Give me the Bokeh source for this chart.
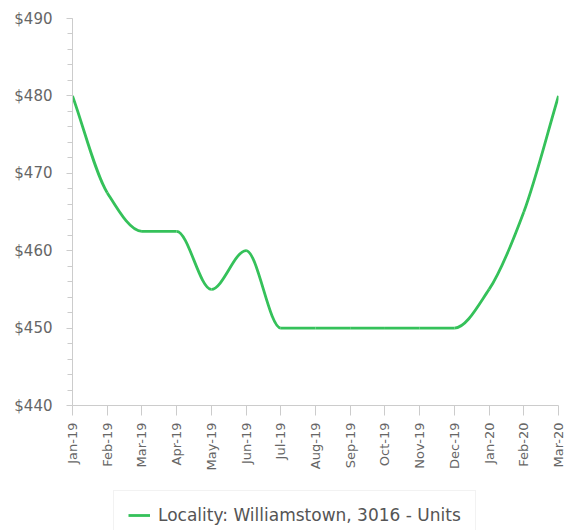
import numpy as np
from bokeh.plotting import figure
from bokeh.layouts import column
from bokeh.models import (FixedTicker, NumeralTickFormatter, Range1d, Legend, LegendItem)
from bokeh.embed import file_html
from bokeh.resources import INLINE

months = ["Jan-19", "Feb-19", "Mar-19", "Apr-19", "May-19", "Jun-19", "Jul-19",
          "Aug-19", "Sep-19", "Oct-19", "Nov-19", "Dec-19", "Jan-20", "Feb-20", "Mar-20"]
rent = [480, 467.5, 462.5, 462.5, 455, 460, 450, 450, 450, 450, 450, 450, 455, 465, 480]
series_name = "Locality: Williamstown, 3016 - Units"
y_ticks = [440, 450, 460, 470, 480, 490]

x = np.arange(len(months), dtype=float)
y = np.array(rent, dtype=float)

# monotone cubic (Fritsch-Carlson) tangents -> bezier control points for a smooth line
n = len(x)
h = np.diff(x)
d = np.diff(y) / h
m = np.zeros(n)
m[0] = d[0]
m[-1] = d[-1]
for i in range(1, n - 1):
    if d[i - 1] * d[i] <= 0:
        m[i] = 0.0
    else:
        w1 = 2 * h[i] + h[i - 1]
        w2 = h[i] + 2 * h[i - 1]
        m[i] = (w1 + w2) / (w1 / d[i - 1] + w2 / d[i])
x0, y0 = x[:-1], y[:-1]
x1, y1 = x[1:], y[1:]
cx0 = x0 + h / 3
cy0 = y0 + m[:-1] * h / 3
cx1 = x1 - h / 3
cy1 = y1 - m[1:] * h / 3

green = "#35c15a"
line_w = 2.8

p = figure(width=566, height=480, output_backend="svg", toolbar_location=None,
           x_range=Range1d(0, n - 1), y_range=Range1d(440, 490),
           min_border_left=72, min_border_right=8, min_border_top=18,
           min_border_bottom=75)
p.outline_line_color = None
p.xgrid.grid_line_color = None
p.ygrid.grid_line_color = None

r = p.bezier(x0=x0, y0=y0, x1=x1, y1=y1, cx0=cx0, cy0=cy0, cx1=cx1, cy1=cy1,
             line_color=green, line_width=line_w)

# y axis
p.yaxis.ticker = FixedTicker(ticks=y_ticks, minor_ticks=list(np.arange(440, 491, 2)))
p.yaxis.formatter = NumeralTickFormatter(format="$0")
p.yaxis.axis_line_color = "#cccccc"
p.yaxis.major_tick_line_color = "#cccccc"
p.yaxis.minor_tick_line_color = "#cccccc"
p.yaxis.major_tick_out = 6
p.yaxis.major_tick_in = 0
p.yaxis.minor_tick_out = 5
p.yaxis.minor_tick_in = 0
p.yaxis.major_label_text_font = "DejaVu Sans"
p.yaxis.major_label_text_font_size = "15px"
p.yaxis.major_label_text_color = "#666666"
p.yaxis.major_label_standoff = 14

# x axis
p.xaxis.ticker = FixedTicker(ticks=list(range(n)))
p.xaxis.major_label_overrides = {i: months[i] for i in range(n)}
p.xaxis.major_label_orientation = np.pi / 2
p.xaxis.axis_line_color = "#cccccc"
p.xaxis.major_tick_line_color = "#cccccc"
p.xaxis.minor_tick_line_color = None
p.xaxis.major_tick_out = 10
p.xaxis.major_tick_in = 0
p.xaxis.major_label_text_font = "DejaVu Sans"
p.xaxis.major_label_text_font_size = "13px"
p.xaxis.major_label_text_color = "#666666"
p.xaxis.major_label_standoff = 7

# legend strip below the chart (same series, legend only)
p2 = figure(width=566, height=50, output_backend="svg", toolbar_location=None,
            x_range=Range1d(0, n - 1), y_range=Range1d(440, 490),
            x_axis_type=None, y_axis_type=None,
            min_border_left=0, min_border_right=0, min_border_top=0, min_border_bottom=0)
p2.outline_line_color = None
p2.xgrid.grid_line_color = None
p2.ygrid.grid_line_color = None
r2 = p2.bezier(x0=x0, y0=y0, x1=x1, y1=y1, cx0=cx0, cy0=cy0, cx1=cx1, cy1=cy1,
               line_color=green, line_width=line_w, visible=False)

legend = Legend(items=[LegendItem(label=series_name, renderers=[r2])],
                orientation="horizontal", location=(41, -10))
legend.label_text_font = "DejaVu Sans"
legend.label_text_font_size = "17px"
legend.label_text_color = "#555555"
legend.label_standoff = 8
legend.border_line_color = "#e6e6e6"
legend.border_line_width = 1
legend.glyph_width = 22
legend.padding = 14
legend.margin = 0
legend.spacing = 0
legend.inactive_fill_alpha = 0
p2.add_layout(legend, "center")

layout = column(p, p2, spacing=0)
open("out.html", "w").write(file_html(layout, INLINE))
